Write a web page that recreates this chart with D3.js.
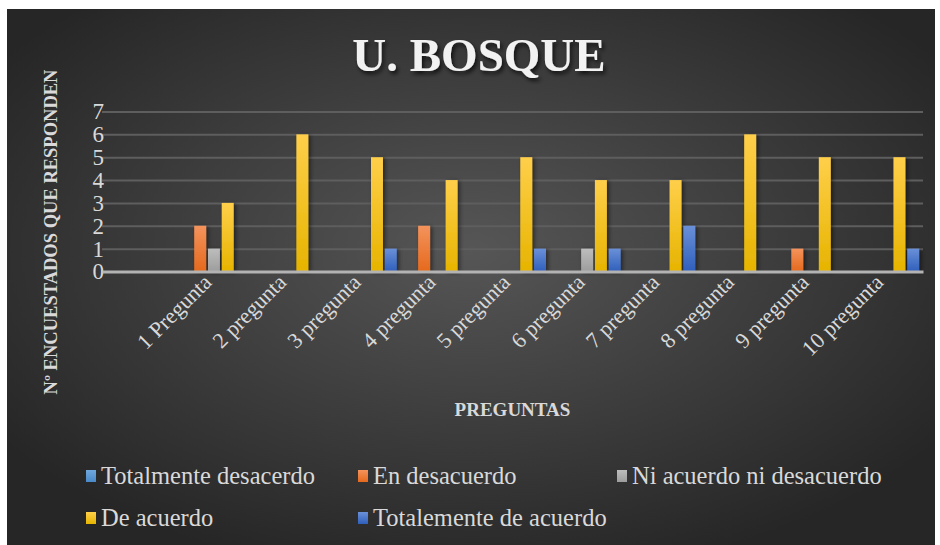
<!DOCTYPE html>
<html>
<head>
<meta charset="utf-8">
<style>
  body { margin: 0; background: #ffffff; }
  svg text { font-family: "Liberation Serif", "Times New Roman", serif; }
</style>
</head>
<body>
<svg id="chart" width="940" height="545"></svg>
<script src="https://cdnjs.cloudflare.com/ajax/libs/d3/7.8.5/d3.min.js"></script>
<script>
// first category is an empty slot, as in the original sheet
var categories = ["", "1 Pregunta", "2 pregunta", "3 pregunta", "4 pregunta", "5 pregunta",
                  "6 pregunta", "7 pregunta", "8 pregunta", "9 pregunta", "10 pregunta"];
var seriesNames = ["Totalmente desacerdo", "En desacuerdo", "Ni acuerdo ni desacuerdo",
                   "De acuerdo", "Totalemente de acuerdo"];
var totalDesacuerdo = [null, 0, 0, 0, 0, 0, 0, 0, 0, 0, 0];
var enDesacuerdo    = [null, 2, 0, 0, 2, 0, 0, 0, 0, 1, 0];
var niAcuerdo       = [null, 1, 0, 0, 0, 0, 1, 0, 0, 0, 0];
var deAcuerdo       = [null, 3, 6, 5, 4, 5, 4, 4, 6, 5, 5];
var totalAcuerdo    = [null, 0, 0, 1, 0, 1, 1, 2, 0, 0, 1];
var yTicks = [0, 1, 2, 3, 4, 5, 6, 7];

var seriesValues = [totalDesacuerdo, enDesacuerdo, niAcuerdo, deAcuerdo, totalAcuerdo];
// [top, bottom] colours of each bar gradient
var colors = [["#6fa8dc", "#4a8ac9"], ["#f4935c", "#e5691d"], ["#bdbdbd", "#9d9d9d"],
              ["#ffcf4a", "#e6b400"], ["#6a90d8", "#2f5fbb"]];

var svg = d3.select("#chart");
var defs = svg.append("defs");

var bg = defs.append("radialGradient").attr("id", "bg")
    .attr("cx", "50%").attr("cy", "45%").attr("r", "62%");
bg.append("stop").attr("offset", "0%").attr("stop-color", "#565656");
bg.append("stop").attr("offset", "100%").attr("stop-color", "#262626");

colors.forEach(function(c, i) {
    var g = defs.append("linearGradient").attr("id", "bar" + i)
        .attr("x1", 0).attr("y1", 0).attr("x2", 0).attr("y2", 1);
    g.append("stop").attr("offset", "0%").attr("stop-color", c[0]);
    g.append("stop").attr("offset", "100%").attr("stop-color", c[1]);
});

var sh = defs.append("filter").attr("id", "shadow")
    .attr("x", "-50%").attr("y", "-20%").attr("width", "200%").attr("height", "140%");
sh.append("feDropShadow").attr("dx", 2).attr("dy", 1).attr("stdDeviation", 2)
    .attr("flood-color", "#000").attr("flood-opacity", 0.5);

var tsh = defs.append("filter").attr("id", "tshadow");
tsh.append("feDropShadow").attr("dx", 2).attr("dy", 3).attr("stdDeviation", 2)
    .attr("flood-color", "#000").attr("flood-opacity", 0.7);

svg.append("rect").attr("x", 7).attr("y", 9).attr("width", 928).attr("height", 536)
    .attr("fill", "url(#bg)");

var margin = {left: 102, right: 923, top: 111.5, bottom: 271.5};

var x0 = d3.scaleBand().domain(categories).range([margin.left, margin.right]).padding(0);
var groupW = 67;
var x1 = d3.scaleBand().domain(d3.range(seriesNames.length))
    .range([(x0.bandwidth() - groupW) / 2, (x0.bandwidth() + groupW) / 2])
    .paddingInner(0.13);
var y = d3.scaleLinear().domain([0, 7]).range([margin.bottom, margin.top]);

// title
svg.append("text").attr("x", 479).attr("y", 71).attr("text-anchor", "middle")
    .attr("font-size", 47).attr("font-weight", "bold")
    .attr("fill", "#f2f2f2").attr("filter", "url(#tshadow)")
    .text("U. BOSQUE");

// gridlines
var grid = d3.axisLeft(y).tickValues(yTicks).tickSize(-(margin.right - margin.left)).tickFormat("");
svg.append("g").attr("transform", "translate(" + margin.left + ",0)").call(grid)
    .call(function(g) {
        g.select(".domain").remove();
        g.selectAll("line").attr("stroke", "#5e5e5e").attr("stroke-width", 2);
    });

// y tick labels
var yAxis = d3.axisLeft(y).tickValues(yTicks).tickSize(0).tickPadding(0).tickFormat(d3.format("d"));
svg.append("g").attr("transform", "translate(104,0)").call(yAxis)
    .call(function(g) {
        g.select(".domain").remove();
        g.selectAll("text").attr("x", 0).attr("font-size", 23).attr("fill", "#d9d9d9");
    });

// bars
var groups = svg.append("g").selectAll("g").data(categories).join("g")
    .attr("transform", function(d) { return "translate(" + x0(d) + ",0)"; });
groups.selectAll("rect")
    .data(function(d, ci) {
        return seriesValues.map(function(s, si) { return {s: si, v: s[ci]}; })
            .filter(function(e) { return e.v; });
    })
    .join("rect")
    .attr("x", function(d) { return x1(d.s); })
    .attr("width", x1.bandwidth())
    .attr("y", function(d) { return y(d.v); })
    .attr("height", function(d) { return y(0) - y(d.v); })
    .attr("fill", function(d) { return "url(#bar" + d.s + ")"; })
    .attr("filter", "url(#shadow)");

// x axis line and rotated labels
var xAxis = d3.axisBottom(x0).tickSize(0).tickPadding(0);
svg.append("g").attr("transform", "translate(0," + margin.bottom + ")").call(xAxis)
    .call(function(g) {
        g.select(".domain").attr("stroke", "#b3b3b3").attr("stroke-width", 3);
        g.selectAll("text")
            .attr("font-size", 22).attr("fill", "#d9d9d9")
            .attr("text-anchor", "end").attr("dy", 0).attr("y", 0)
            .attr("transform", "translate(-1,12) rotate(-45)");
    });

// axis titles
svg.append("text").attr("transform", "translate(57,232) rotate(-90)")
    .attr("text-anchor", "middle").attr("font-size", 18.5).attr("font-weight", "bold")
    .attr("fill", "#d9d9d9").text("Nº ENCUESTADOS QUE RESPONDEN");
svg.append("text").attr("x", (margin.left + margin.right) / 2).attr("y", 416)
    .attr("text-anchor", "middle").attr("font-size", 19).attr("font-weight", "bold")
    .attr("fill", "#d9d9d9").text("PREGUNTAS");

// legend
var legendPos = [[86, 476], [358, 476], [617, 476], [86, 518], [358, 518]];
var legend = svg.append("g").selectAll("g").data(seriesNames).join("g")
    .attr("transform", function(d, i) { return "translate(" + legendPos[i][0] + "," + legendPos[i][1] + ")"; });
legend.append("rect").attr("x", 0).attr("y", -6).attr("width", 10).attr("height", 12)
    .attr("fill", function(d, i) { return "url(#bar" + i + ")"; });
legend.append("text").attr("x", 15).attr("y", 8).attr("font-size", 24.5).attr("fill", "#d9d9d9")
    .text(function(d) { return d; });
</script>
</body>
</html>
